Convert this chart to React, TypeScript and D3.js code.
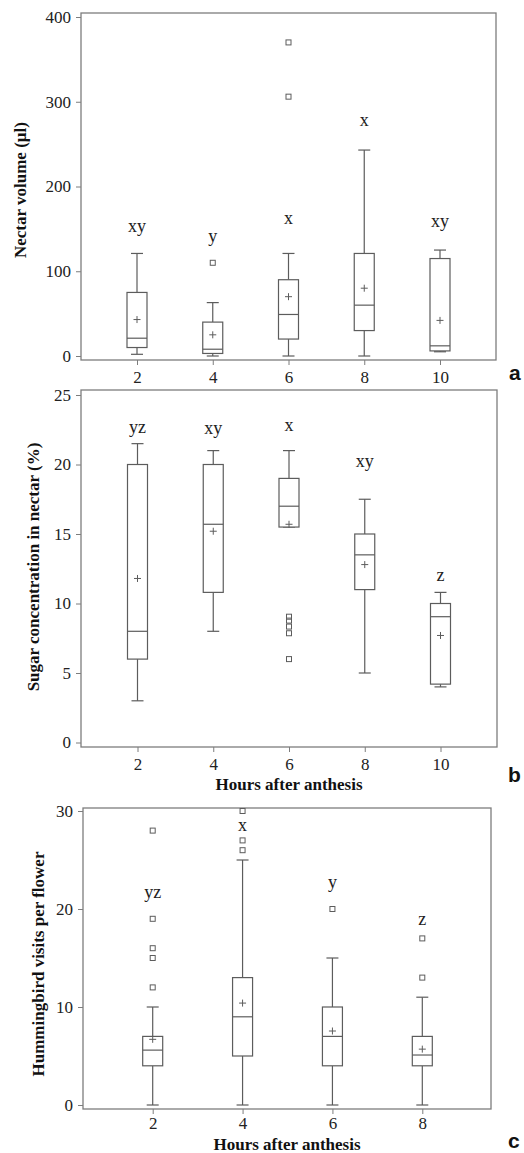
import React, { useEffect, useRef } from 'react';
import * as d3 from 'd3';

// panel a - nectar volume
const hoursA = [2, 4, 6, 8, 10];
const volLow = [2, 0, 0, 0, 5];
const volQ1 = [10, 3, 20, 30, 6];
const volMedian = [21, 8, 49, 60, 12];
const volQ3 = [75, 40, 90, 121, 115];
const volHigh = [121, 63, 121, 243, 125];
const volMean = [43, 25, 70, 80, 42];
const volOutliers = [[], [110], [306, 370], [], []];
const volLetters = ['xy', 'y', 'x', 'x', 'xy'];
const volLetterAt = [146, 135, 156, 271, 152];
const volTicks = [0, 100, 200, 300, 400];

// panel b - sugar concentration
const hoursB = [2, 4, 6, 8, 10];
const sugLow = [3, 8, 15.5, 5, 4];
const sugQ1 = [6, 10.8, 15.5, 11, 4.2];
const sugMedian = [8, 15.7, 17, 13.5, 9.05];
const sugQ3 = [20, 20, 19, 15, 10];
const sugHigh = [21.5, 21, 21, 17.5, 10.8];
const sugMean = [11.8, 15.2, 15.7, 12.8, 7.7];
const sugOutliers = [[], [], [9.05, 8.77, 8.34, 7.86, 6], [], []];
const sugLetters = ['yz', 'xy', 'x', 'xy', 'z'];
const sugLetterAt = [22.3, 22.2, 22.4, 19.8, 11.6];
const sugTicks = [0, 5, 10, 15, 20, 25];

// panel c - hummingbird visits
const hoursC = [2, 4, 6, 8];
const visLow = [0, 0, 0, 0];
const visQ1 = [4, 5, 4, 4];
const visMedian = [5.6, 9, 7, 5.1];
const visQ3 = [7, 13, 10, 7];
const visHigh = [10, 25, 15, 11];
const visMean = [6.7, 10.4, 7.55, 5.7];
const visOutliers = [[28, 19, 16, 15, 12], [30, 27, 26], [20], [17, 13]];
const visLetters = ['yz', 'x', 'y', 'z'];
const visLetterAt = [21.1, 28, 22.1, 18.4];
const visTicks = [0, 10, 20, 30];

const serif = '"Liberation Serif", "Times New Roman", serif';
const frameColor = '#7d7d7d';
const boxColor = '#5c5c5c';

const makeRows = (hours, low, q1, med, q3, high, mean, outl, letters, letterAt) =>
    hours.map((h, i) => ({
        h, low: low[i], q1: q1[i], med: med[i], q3: q3[i], high: high[i],
        mean: mean[i], outliers: outl[i], letter: letters[i], letterAt: letterAt[i]
    }));

const panels = [
    {
        rows: makeRows(hoursA, volLow, volQ1, volMedian, volQ3, volHigh, volMean, volOutliers, volLetters, volLetterAt),
        ticks: volTicks, xDomain: [2, 10], xRange: [137, 440],
        yDomain: [0, 400], yRange: [356, 17],
        frame: { left: 81, right: 496, top: 13, bottom: 360 },
        yTitle: 'Nectar volume (µl)', yTitlePos: [20, 190],
        xTitle: null, xTitleY: 0, xPad: 6,
        tag: 'a', tagPos: [509, 380]
    },
    {
        rows: makeRows(hoursB, sugLow, sugQ1, sugMedian, sugQ3, sugHigh, sugMean, sugOutliers, sugLetters, sugLetterAt),
        ticks: sugTicks, xDomain: [2, 10], xRange: [137.5, 440.5],
        yDomain: [0, 25], yRange: [742.5, 395],
        frame: { left: 81, right: 497, top: 390, bottom: 747 },
        yTitle: 'Sugar concentration in nectar (%)', yTitlePos: [33, 567],
        xTitle: 'Hours after anthesis', xTitleY: 790, xPad: 6,
        tag: 'b', tagPos: [508, 782]
    },
    {
        rows: makeRows(hoursC, visLow, visQ1, visMedian, visQ3, visHigh, visMean, visOutliers, visLetters, visLetterAt),
        ticks: visTicks, xDomain: [2, 8], xRange: [152.7, 422.3],
        yDomain: [0, 30], yRange: [1105, 811],
        frame: { left: 83, right: 491, top: 808, bottom: 1109 },
        yTitle: 'Hummingbird visits per flower', yTitlePos: [38, 964],
        xTitle: 'Hours after anthesis', xTitleY: 1150, xPad: 3,
        tag: 'c', tagPos: [508, 1148]
    }
];

const App = () => {
    const ref = useRef(null);

    useEffect(() => {
        const svg = d3.select(ref.current);
        svg.selectAll('*').remove();

        const boxW = 20, capW = 12, sq = 5, plus = 3.5;

        panels.forEach(p => {
            const x = d3.scaleLinear().domain(p.xDomain).range(p.xRange);
            const y = d3.scaleLinear().domain(p.yDomain).range(p.yRange);
            const f = p.frame;
            const g = svg.append('g');

            // y axis
            const ya = g.append('g')
                .attr('transform', `translate(${f.left},0)`)
                .call(d3.axisLeft(y).tickValues(p.ticks).tickSize(5).tickPadding(5).tickFormat(d3.format('d')));
            // x axis
            const xa = g.append('g')
                .attr('transform', `translate(0,${f.bottom})`)
                .call(d3.axisBottom(x).tickValues(p.rows.map(r => r.h)).tickSize(5).tickPadding(p.xPad).tickFormat(d3.format('d')));
            [ya, xa].forEach(a => {
                a.attr('font-family', serif).attr('font-size', 17);
                a.select('.domain').remove();
                a.selectAll('line').attr('stroke', frameColor);
                a.selectAll('text').attr('fill', '#222');
            });

            g.append('rect')
                .attr('x', f.left).attr('y', f.top)
                .attr('width', f.right - f.left).attr('height', f.bottom - f.top)
                .attr('fill', 'none').attr('stroke', frameColor).attr('stroke-width', 1.3);

            const box = g.selectAll('g.box').data(p.rows).enter().append('g')
                .attr('class', 'box')
                .attr('stroke', boxColor).attr('stroke-width', 1.2).attr('fill', 'none');

            // whiskers
            box.append('line')
                .attr('x1', d => x(d.h)).attr('x2', d => x(d.h))
                .attr('y1', d => y(d.low)).attr('y2', d => y(d.q1));
            box.append('line')
                .attr('x1', d => x(d.h)).attr('x2', d => x(d.h))
                .attr('y1', d => y(d.q3)).attr('y2', d => y(d.high));
            box.append('line')
                .attr('x1', d => x(d.h) - capW / 2).attr('x2', d => x(d.h) + capW / 2)
                .attr('y1', d => y(d.low)).attr('y2', d => y(d.low));
            box.append('line')
                .attr('x1', d => x(d.h) - capW / 2).attr('x2', d => x(d.h) + capW / 2)
                .attr('y1', d => y(d.high)).attr('y2', d => y(d.high));

            box.append('rect')
                .attr('x', d => x(d.h) - boxW / 2).attr('width', boxW)
                .attr('y', d => y(d.q3)).attr('height', d => y(d.q1) - y(d.q3))
                .attr('fill', '#fff');
            box.append('line')
                .attr('x1', d => x(d.h) - boxW / 2).attr('x2', d => x(d.h) + boxW / 2)
                .attr('y1', d => y(d.med)).attr('y2', d => y(d.med));

            // mean marker
            box.append('path')
                .attr('stroke-width', 1)
                .attr('d', d => `M${x(d.h) - plus},${y(d.mean)}h${plus * 2}M${x(d.h)},${y(d.mean) - plus}v${plus * 2}`);

            // outliers
            box.selectAll('rect.out').data(d => d.outliers.map(v => ({ h: d.h, v }))).enter()
                .append('rect').attr('class', 'out')
                .attr('x', d => x(d.h) - sq / 2).attr('y', d => y(d.v) - sq / 2)
                .attr('width', sq).attr('height', sq)
                .attr('stroke-width', 1);

            // significance letters
            g.selectAll('text.letter').data(p.rows).enter().append('text')
                .attr('class', 'letter')
                .attr('x', d => x(d.h)).attr('y', d => y(d.letterAt))
                .attr('text-anchor', 'middle')
                .attr('font-family', serif).attr('font-size', 18).attr('fill', '#222')
                .text(d => d.letter);

            g.append('text')
                .attr('transform', `translate(${p.yTitlePos[0]},${p.yTitlePos[1]}) rotate(-90)`)
                .attr('text-anchor', 'middle').attr('dominant-baseline', 'central')
                .attr('font-family', serif).attr('font-weight', 'bold').attr('font-size', 17)
                .attr('fill', '#111')
                .text(p.yTitle);

            if (p.xTitle) {
                g.append('text')
                    .attr('x', (f.left + f.right) / 2).attr('y', p.xTitleY)
                    .attr('text-anchor', 'middle')
                    .attr('font-family', serif).attr('font-weight', 'bold').attr('font-size', 17)
                    .attr('fill', '#111')
                    .text(p.xTitle);
            }

            g.append('text')
                .attr('x', p.tagPos[0]).attr('y', p.tagPos[1])
                .attr('font-family', '"Liberation Sans", Arial, sans-serif')
                .attr('font-weight', 'bold').attr('font-size', 21).attr('fill', '#111')
                .text(p.tag);
        });
    });

    return (
        <svg ref={ref} width="524" height="1153"
            style={{ position: 'absolute', left: 0, top: 0, background: '#fff' }}></svg>
    );
};

export default App;
